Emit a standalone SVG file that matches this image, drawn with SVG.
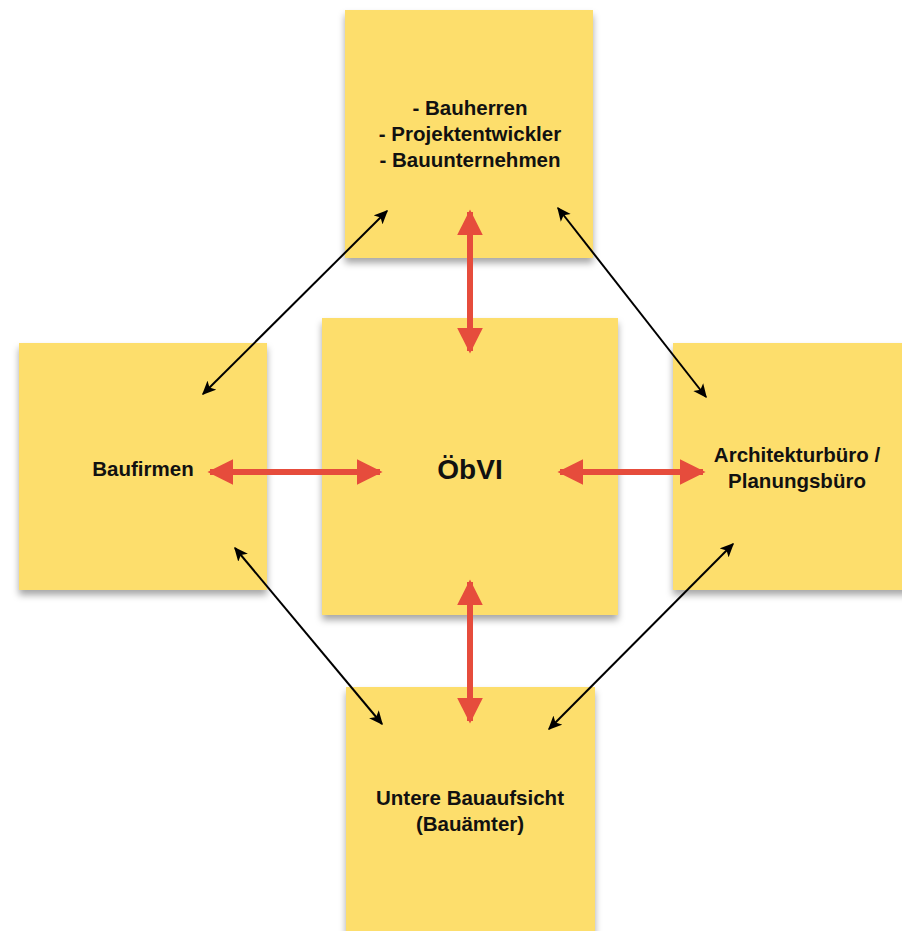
<svg xmlns="http://www.w3.org/2000/svg" width="902" height="931" viewBox="0 0 902 931">
<style>
.note{fill:#FDDE6C;filter:url(#sh)}
.t{font-family:"Liberation Sans",Arial,sans-serif;font-weight:bold;font-size:20.5px;fill:#111;text-anchor:middle}
.big{font-size:28px}
.red{stroke:#E64C3C;stroke-width:6;fill:none;marker-start:url(#rh);marker-end:url(#rh)}
.blk{stroke:#000;stroke-width:2;fill:none;marker-start:url(#bh);marker-end:url(#bh)}
</style>
<defs>
<filter id="sh" x="-10%" y="-10%" width="120%" height="125%">
<feDropShadow dx="0" dy="5" stdDeviation="3.5" flood-color="#000" flood-opacity="0.35"/>
</filter>
<marker id="rh" viewBox="0 0 10 10" refX="9" refY="5" markerWidth="4.3" markerHeight="4.3" orient="auto-start-reverse" markerUnits="strokeWidth">
<path d="M0,0 L10,5 L0,10 z" fill="#E64C3C"/>
</marker>
<marker id="bh" viewBox="0 0 10 10" refX="9" refY="5" markerWidth="7" markerHeight="7" orient="auto-start-reverse" markerUnits="strokeWidth">
<path d="M0,0.5 L10,5 L0,9.5 L2.5,5 z" fill="#000"/>
</marker>
</defs>
<g id="node-top">
<rect class="note" x="345" y="10" width="248" height="248"/>
<text class="t" x="470" y="115">- Bauherren</text>
<text class="t" x="470" y="141">- Projektentwickler</text>
<text class="t" x="470" y="167">- Bauunternehmen</text>
</g>
<g id="node-left">
<rect class="note" x="19" y="343" width="248" height="247"/>
<text class="t" x="143" y="476">Baufirmen</text>
</g>
<g id="node-right">
<rect class="note" x="673" y="343" width="248" height="247"/>
<text class="t" x="797" y="462">Architekturbüro /</text>
<text class="t" x="797" y="488">Planungsbüro</text>
</g>
<g id="node-bottom">
<rect class="note" x="346" y="687" width="249" height="260"/>
<text class="t" x="470" y="805">Untere Bauaufsicht</text>
<text class="t" x="470" y="831">(Bauämter)</text>
</g>
<g id="node-center">
<rect class="note" x="322" y="318" width="296" height="297"/>
<text class="t big" x="470" y="479">ÖbVI</text>
</g>
<g id="connectors">
<line class="red" x1="470" y1="212" x2="470" y2="351"/>
<line class="red" x1="210" y1="472" x2="380" y2="472"/>
<line class="red" x1="560" y1="472" x2="703" y2="472"/>
<line class="red" x1="470" y1="582" x2="470" y2="721"/>
<line class="blk" x1="387" y1="211" x2="203" y2="394"/>
<line class="blk" x1="558" y1="208" x2="706" y2="397"/>
<line class="blk" x1="235" y1="548" x2="382" y2="724"/>
<line class="blk" x1="733" y1="544" x2="549" y2="729"/>
</g>
</svg>
